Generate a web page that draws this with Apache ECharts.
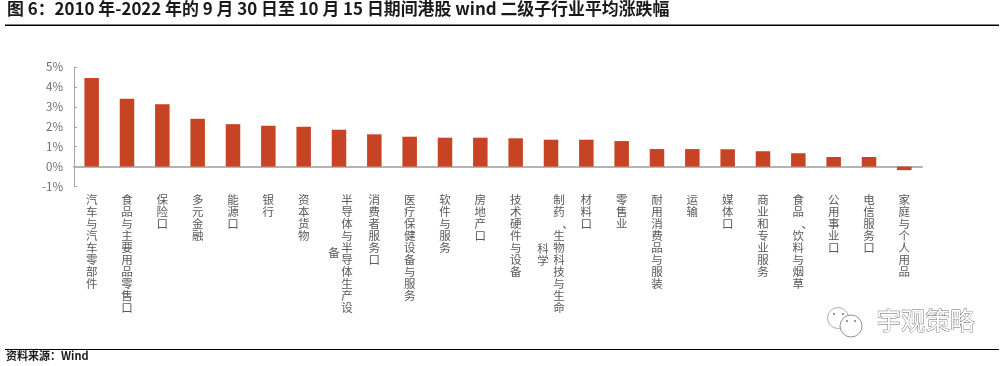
<!DOCTYPE html>
<html>
<head>
<meta charset="utf-8">
<style>
    html, body { margin: 0; padding: 0; background: #fff; }
    #chart { width: 1007px; height: 366px; }
</style>
<script src="https://cdn.jsdelivr.net/npm/echarts@6/dist/echarts.min.js"></script>
</head>
<body>
<div id="chart"></div>
<script>
// 行业名称（第二列放不下的部分单独放在 overflowLabels）
var categories = ['汽车与汽车零部件', '食品与主要用品零售口', '保险口', '多元金融', '能源口', '银行', '资本货物', '半导体与半导体生产设备', '消费者服务口', '医疗保健设备与服务', '软件与服务', '房地产口', '技术硬件与设备', '制药、生物科技与生命科学', '材料口', '零售业', '耐用消费品与服装', '运输', '媒体口', '商业和专业服务', '食品、饮料与烟草', '公用事业口', '电信服务口', '家庭与个人用品'];
var overflowLabels = ['', '', '', '', '', '', '', '备', '', '', '', '', '', '科学', '', '', '', '', '', '', '', '', '', ''];
var changes = [4.45, 3.4, 3.13, 2.4, 2.13, 2.05, 2.0, 1.85, 1.62, 1.5, 1.45, 1.45, 1.42, 1.35, 1.35, 1.28, 0.88, 0.88, 0.87, 0.77, 0.67, 0.48, 0.48, -0.18];

var titleText = '图 6：2010 年-2022 年的 9 月 30 日至 10 月 15 日期间港股 wind 二级子行业平均涨跌幅';
var sourceText = '资料来源：Wind';
var watermarkText = '宇观策略';

var cjkFont = '"Noto Sans CJK SC", "Noto Sans", sans-serif';

function stacked(text, tag) {
    return text.split('').map(function (c) {
        // 顿号在原图里靠右
        var t = c === '、' ? tag + 'Pause' : tag;
        return '{' + t + '|' + c + '}';
    }).join('\n');
}

var labelRich = { fontSize: 11.5, lineHeight: 12, color: '#595959', fontFamily: cjkFont };
function richStyle(padding) {
    return Object.assign({}, labelRich, { padding: padding });
}

var chart = echarts.init(document.getElementById('chart'));
chart.setOption({
    animation: false,
    backgroundColor: '#fff',
    grid: { left: 74, right: 85, top: 67, bottom: 179.5 },
    xAxis: [
        {
            type: 'category',
            data: categories,
            axisLine: { onZero: true, lineStyle: { color: '#b4b4b4', width: 2 } },
            axisTick: { inside: true, length: 3, lineStyle: { color: '#a6a6a6' } },
            axisLabel: {
                interval: 0,
                margin: 7,
                verticalAlign: 'top',
                formatter: function (value, idx) {
                    var main = value.slice(0, value.length - overflowLabels[idx].length);
                    return stacked(main, overflowLabels[idx] ? 'shift' : 'plain');
                },
                rich: {
                    plain: labelRich,
                    plainPause: richStyle([0, 0, 0, 18]),
                    shift: richStyle([0, 0, 0, 16]),
                    shiftPause: richStyle([0, 0, 0, 34])
                }
            }
        },
        {
            // 换行后的第二列
            type: 'category',
            position: 'bottom',
            data: overflowLabels,
            axisLine: { show: false },
            axisTick: { show: false },
            axisLabel: {
                interval: 0,
                margin: 56,
                verticalAlign: 'top',
                formatter: function (value) {
                    if (!value) return '';
                    return stacked(value, value.length === 1 ? 'one' : 'two');
                },
                rich: { one: richStyle([8, 10, 0, 0]), two: richStyle([0, 16, 0, 0]) }
            }
        }
    ],
    yAxis: {
        type: 'value',
        min: -1,
        max: 5,
        interval: 1,
        axisLine: { show: true, lineStyle: { color: '#a6a6a6' } },
        axisTick: { show: true, inside: true, length: 3, lineStyle: { color: '#a6a6a6' } },
        splitLine: { show: false },
        axisLabel: {
            formatter: '{value}%',
            margin: 11,
            fontSize: 11.5,
            color: '#6e6e6e',
            fontFamily: cjkFont
        }
    },
    series: [
        {
            type: 'bar',
            data: changes,
            barWidth: '41%',
            itemStyle: { color: '#c64423' }
        }
    ],
    graphic: [
        { type: 'text', left: 7, top: 0, style: { text: titleText, font: 'bold 16.9px ' + cjkFont, fill: '#1a1a1a' } },
        { type: 'rect', shape: { x: 5, y: 24.5, width: 994, height: 1.5 }, style: { fill: '#000' } },
        { type: 'rect', shape: { x: 5, y: 349, width: 994, height: 1 }, style: { fill: '#000' } },
        { type: 'text', left: 6, top: 350, style: { text: sourceText, font: 'bold 11px ' + cjkFont, fill: '#1a1a1a' } },
        // 水印
        { type: 'circle', shape: { cx: 838, cy: 318, r: 10.5 }, style: { fill: '#fff', stroke: '#999', lineWidth: 0.8 } },
        { type: 'circle', shape: { cx: 851, cy: 326, r: 11 }, style: { fill: '#fff', stroke: '#777', lineWidth: 0.8 } },
        { type: 'circle', shape: { cx: 834, cy: 314, r: 1 }, style: { fill: '#777' } },
        { type: 'circle', shape: { cx: 843, cy: 314, r: 1 }, style: { fill: '#777' } },
        { type: 'circle', shape: { cx: 847, cy: 321, r: 1 }, style: { fill: '#777' } },
        { type: 'circle', shape: { cx: 855, cy: 321, r: 1 }, style: { fill: '#777' } },
        { type: 'text', left: 876, top: 308, style: { text: watermarkText, font: '24.5px ' + cjkFont, fill: '#fff', stroke: '#666', lineWidth: 0.8 } }
    ]
});
</script>
</body>
</html>
